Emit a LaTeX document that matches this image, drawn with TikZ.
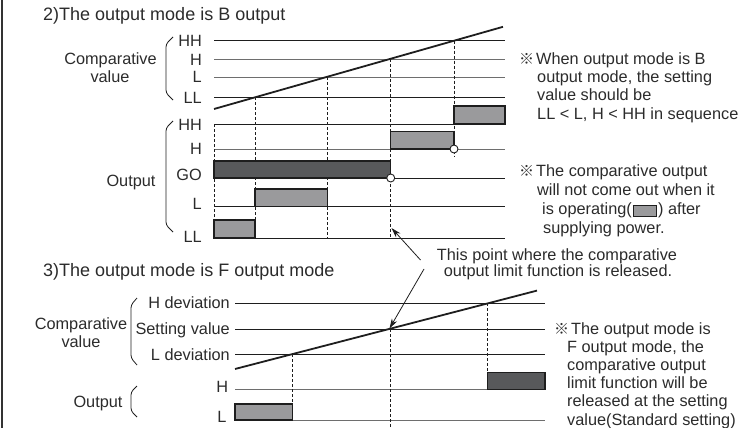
\documentclass[tikz,border=0pt]{standalone}
\usepackage{fontspec}
\setmainfont{Liberation Sans}
\newfontfamily\refmarkfont{Noto Sans CJK KR}
\usetikzlibrary{arrows.meta}
\definecolor{ink}{HTML}{2B2B2B}
\definecolor{linek}{HTML}{1E1E1E}
\definecolor{lineg}{HTML}{6E6E6E}
\definecolor{boxmid}{HTML}{9A9A9C}
\definecolor{boxdark}{HTML}{58595B}
\newcommand{\lblsize}{\fontsize{16.3}{18.3}\selectfont}
\newcommand{\rmk}{\makebox[16pt][l]{\refmarkfont\fontsize{15}{15}\selectfont\hspace{-1pt}※}}
\newcommand{\opbox}{{\setlength{\fboxsep}{0pt}\setlength{\fboxrule}{1.1pt}\hspace{1pt}\raisebox{-1.5pt}{\fcolorbox{linek}{boxmid}{\rule{0pt}{10pt}\hspace{22pt}}}\hspace{1pt}}}
\begin{document}
\begin{tikzpicture}[x=1pt,y=-1pt,
  lvl/.style={line width=0.9pt, draw=linek},
  lvlg/.style={line width=0.9pt, draw=lineg},
  ramp/.style={line width=1.8pt, draw=linek},
  vdash/.style={line width=0.8pt, draw=linek, dash pattern=on 3pt off 2pt},
  obox/.style={draw=linek, line width=1.2pt, fill=boxmid},
  dbox/.style={draw=linek, line width=1.2pt, fill=boxdark},
  endpt/.style={draw=linek, line width=0.9pt, fill=white},
  brace/.style={line width=0.8pt, draw=linek, rounded corners=3pt},
  lbl/.style={anchor=base east, inner sep=0pt, text=ink, font=\lblsize},
  ttl/.style={anchor=base west, inner sep=0pt, text=ink, font=\fontsize{18}{20}\selectfont},
  notetxt/.style={anchor=base west, inner sep=0pt, text=ink, font=\lblsize},
  captxt/.style={anchor=base, inner sep=0pt, text=ink, font=\lblsize},
  pointer/.style={line width=0.8pt, draw=linek, -{Stealth[length=10pt,width=6pt]}}
]
\useasboundingbox (0,0) rectangle (747,428);
% left border
\draw[line width=2pt, draw=black!80] (1.6,0) -- (1.6,428);

% ================= Section 2 =================
\node[ttl] (t2) at (43,20.3) {2)The output mode is B output};

% comparative levels
\draw[lvl]  (214,40.7) -- (505,40.7);
\draw[lvlg] (214,59)   -- (505,59);
\draw[lvlg] (214,77)   -- (505,77);
\draw[lvl]  (214,97.3) -- (505,97.3);
\node[lbl] (c2hh) at (202,46.8) {HH};
\node[lbl] (c2h)  at (202,65.8) {H};
\node[lbl] (c2l)  at (202,82.8) {L};
\node[lbl] (c2ll) at (202,103.8) {LL};
\node[captxt] (c2a) at (110.5,65) {Comparative};
\node[captxt] (c2b) at (110,82.7) {value};
\draw[brace] (173,37) -- (166,44) -- (166,93) -- (173,100);

% output levels
\draw[lvl]  (214,124) -- (505,124);
\draw[lvlg] (214,149) -- (505,149);
\draw[lvl]  (214,178) -- (505,178);
\draw[lvl]  (214,206.7) -- (505,206.7);
\draw[lvl]  (214,238) -- (505,238);
\node[lbl] (o2hh) at (202,130.8) {HH};
\node[lbl] (o2h)  at (202,154.3) {H};
\node[lbl] (o2go) at (202,180.4) {GO};
\node[lbl] (o2l)  at (202,209.8) {L};
\node[lbl] (o2ll) at (202,242.5) {LL};
\node[captxt] (o2a) at (131,186) {Output};
\draw[brace] (173,121) -- (166,128) -- (166,225) -- (173,232);

% dashed verticals
\draw[vdash] (214,124) -- (214,238);
\draw[vdash] (255,97.3) -- (255,238);
\draw[vdash] (327.7,77) -- (327.7,238);
\draw[vdash] (390.7,59) -- (390.7,238);
\draw[vdash] (454,40.7) -- (454,157);

% output boxes
\draw[obox] (454,106) rectangle (505,124);
\draw[obox] (390.7,131.7) rectangle (454,149);
\draw[dbox] (214,161) rectangle (390.7,178);
\draw[obox] (255,189) rectangle (327.7,206.7);
\draw[obox] (214,220) rectangle (255,238);
\draw[endpt] (454,149) circle (4);
\draw[endpt] (390.7,178) circle (4);

% ramp
\draw[ramp] (214,109) -- (503,26.8);

% notes
\node[notetxt] (n1a) at (520,64.3) {\rmk When output mode is B};
\node[notetxt] (n1b) at (537,82.6) {output mode, the setting};
\node[notetxt] (n1c) at (537,100.9) {value should be};
\node[notetxt] (n1d) at (537,119.2) {LL < L, H < HH in sequence};

\node[notetxt] (n2a) at (520,176.7) {\rmk The comparative output};
\node[notetxt] (n2b) at (537,195.6) {will not come out when it};
\node[notetxt] (n2c) at (542,214.5) {is operating(\opbox) after};
\node[notetxt] (n2d) at (543,233.3) {supplying power.};

% release annotation
\node[captxt] (r1) at (557,260) {This point where the comparative};
\node[captxt] (r2) at (558,276.3) {output limit function is released.};
\coordinate (p1s) at (420.5,260);
\coordinate (p1e) at (391.5,228);
\coordinate (p2s) at (424,269);
\coordinate (p2e) at (389.5,328.5);
\draw[pointer] (p1s) -- (p1e);
\draw[pointer] (p2s) -- (p2e);

% ================= Section 3 =================
\node[ttl] (t3) at (43,276) {3)The output mode is F output mode};

\draw[lvl]  (235,303.3) -- (545,303.3);
\draw[lvl]  (235,329.3) -- (545,329.3);
\draw[lvl]  (235,354.3) -- (545,354.3);
\node[lbl] (c3h) at (230,308.8) {H deviation};
\node[lbl] (c3s) at (230,334.5) {Setting value};
\node[lbl] (c3l) at (230,360.8) {L deviation};
\node[captxt] (c3a) at (81,329.3) {Comparative};
\node[captxt] (c3b) at (81,347.3) {value};
\draw[brace] (137,298) -- (131,305) -- (131,358) -- (137,365);

\draw[lvlg] (235,389.3) -- (545,389.3);
\draw[lvlg] (235,420) -- (545,420);
\node[lbl] (o3h) at (228.3,392.8) {H};
\node[lbl] (o3l) at (226.7,422.5) {L};
\node[captxt] (o3a) at (98,407.7) {Output};
\draw[brace] (137,386) -- (131,392) -- (131,411) -- (137,417);

\draw[vdash] (292.7,354.3) -- (292.7,420);
\draw[vdash] (390,329.3) -- (390,427);
\draw[vdash] (487.7,303.3) -- (487.7,372.3);

\draw[obox] (235,404) rectangle (292.7,420);
\draw[dbox] (487.7,372.3) rectangle (545,389.3);

\draw[ramp] (235,369) -- (537,290.6);

\node[notetxt] (n3a) at (555,334) {\rmk The output mode is};
\node[notetxt] (n3b) at (567,352.2) {F output mode, the};
\node[notetxt] (n3c) at (567,370.4) {comparative output};
\node[notetxt] (n3d) at (567,388.6) {limit function will be};
\node[notetxt] (n3e) at (567,406.8) {released at the setting};
\node[notetxt] (n3f) at (567,425) {value(Standard setting)};
\end{tikzpicture}
\end{document}
